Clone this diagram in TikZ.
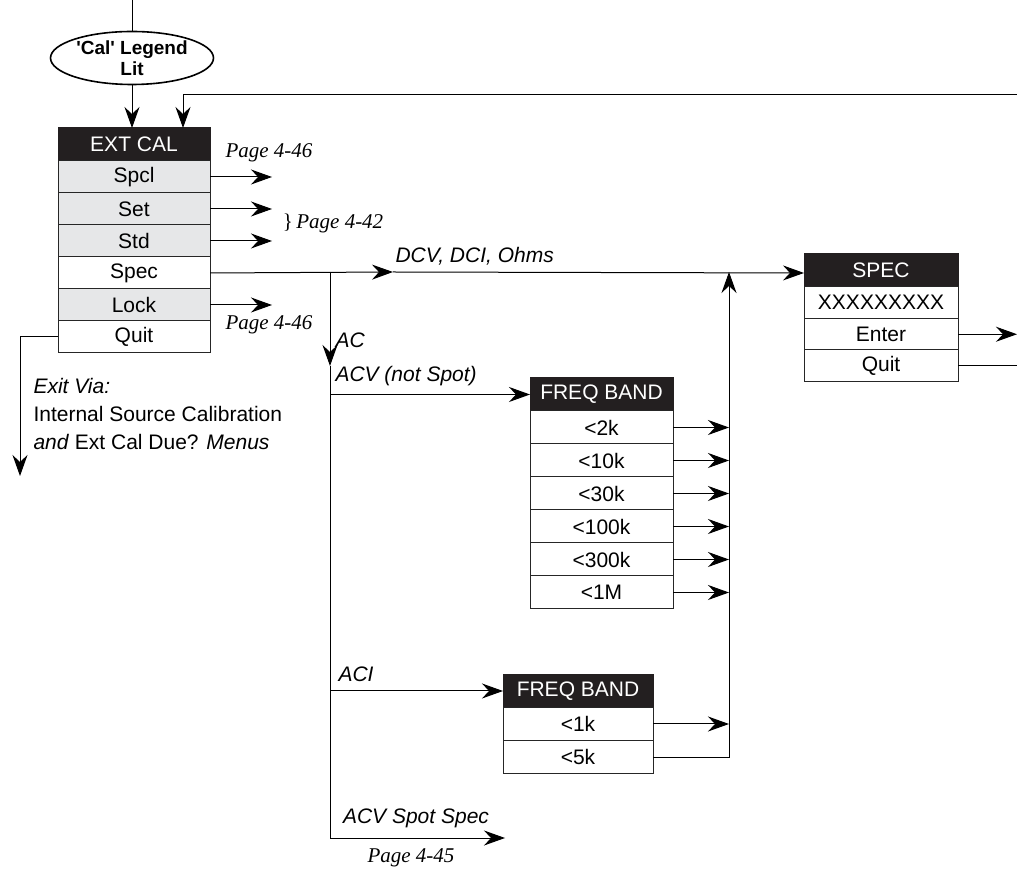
\documentclass[tikz,border=0pt]{standalone}
\usepackage{fontspec}
\setmainfont{Liberation Sans}
\newfontfamily\serifpage{Liberation Serif}
\newfontfamily\legendfont{Liberation Sans}
\usetikzlibrary{arrows.meta,positioning,shapes.geometric}
\definecolor{menugrey}{RGB}{230,231,232}
\definecolor{menublack}{RGB}{35,31,32}
\newcommand\menufont{\fontsize{10.5}{12.6}\selectfont}
\newcommand\pagefont{\serifpage\itshape\fontsize{10.5}{12.6}\selectfont}

\begin{document}
\begin{tikzpicture}[x=0.5pt,y=-0.5pt,>={Stealth[length=10.5pt,width=7.5pt,inset=3.5pt]},line width=0.5pt,
  hdr/.style={draw=menublack,fill=menublack,text=white,font=\menufont,minimum height=16.5pt,inner sep=0pt,outer sep=0pt},
  item/.style={draw=black!85,fill=white,font=\menufont,inner sep=0pt,outer sep=0pt},
  greyitem/.style={item,fill=menugrey},
  lbl/.style={font=\menufont\itshape,inner sep=1pt},
  pg/.style={font=\pagefont,inner sep=1pt}]
\useasboundingbox (0,0) rectangle (1017,870);

% entry
\coordinate (feed) at (132,0);
\node[draw,ellipse,line width=0.8pt,minimum width=81.5pt,minimum height=26.5pt,inner sep=0pt,align=center,
  font=\legendfont\bfseries\fontsize{9.5}{10.5}\selectfont] (legend) at (132,58) {'Cal' Legend\\Lit};
\draw (feed) -- (legend);

% EXT CAL menu
\begin{scope}[every node/.append style={minimum width=76pt,minimum height=16pt}]
\node[hdr,minimum height=16.5pt] (extcal) at (134,144.5) {EXT CAL};
\node[greyitem,below=0pt of extcal] (spcl) {Spcl};
\node[greyitem,below=0pt of spcl] (set) {Set};
\node[greyitem,below=0pt of set] (std) {Std};
\node[item,below=0pt of std] (spec) {Spec};
\node[greyitem,below=0pt of spec] (lock) {Lock};
\node[item,below=0pt of lock] (quit) {Quit};
\end{scope}

\draw[->] (legend.south) -- (legend.south |- extcal.north);
\coordinate (edge) at (1017,95);
\draw[->] (edge) -| ([xshift=24.5pt]extcal.north);

\draw[->] (spcl.east) -- ++(62,0);
\draw[->] (set.east) -- ++(62,0);
\draw[->] (std.east) -- ++(62,0);
\draw[->] (lock.east) -- ++(62,0);
\node[pg] (pgspcl) at (269,153) {Page 4-46};
\node[pg] (pgset) at (333,223) {\upshape\}\,\itshape Page 4-42};
\node[pg] (pglock) at (269,325) {Page 4-46};

% exit
\coordinate (exitend) at (20,476);
\draw[->] (quit.west) -| (exitend);
\node[anchor=west,align=left,inner sep=0pt,font=\fontsize{10.5}{14}\selectfont] (exitnote) at (33,414)
  {\textit{Exit Via:}\\Internal Source Calibration\\\textit{and} Ext Cal Due? \textit{Menus}};

% SPEC menu
\begin{scope}[every node/.append style={minimum width=77pt,minimum height=15.75pt}]
\node[hdr,minimum height=16.5pt] (spechdr) at (881,270.5) {SPEC};
\node[item,below=0pt of spechdr] (xxx) {XXXXXXXXX};
\node[item,below=0pt of xxx] (enter) {Enter};
\node[item,below=0pt of enter] (squit) {Quit};
\end{scope}
\draw[->] (enter.east) -- (enter.east -| edge);
\draw (squit.east) -- (squit.east -| edge);

% spec branch
\coordinate (dcv) at (393,272);
\coordinate (acsplit) at (330,272);
\coordinate (acmark) at (330,366);
\coordinate (spot) at (505,838);
\coordinate (bus) at (729,272);
\draw[->] (spec.east) -- (dcv) node[lbl,above right,yshift=2pt] {DCV, DCI, Ohms};
\draw[->] (dcv) -- (spec.east -| spechdr.west);
\draw[->] (acsplit) -- (acmark);
\node[lbl,anchor=south west] at (333,350) {AC};
\draw[->] (acmark) |- (spot);
\node[lbl,anchor=south] at (416,830) {ACV Spot Spec};
\node[pg,anchor=north] at (411,846) {Page 4-45};

% FREQ BAND (ACV)
\begin{scope}[every node/.append style={minimum width=71.5pt,minimum height=16.5pt}]
\node[hdr] (fbv) at (601.5,394.5) {FREQ BAND};
\node[item,below=0pt of fbv] (b2k) {<2k};
\node[item,below=0pt of b2k] (b10k) {<10k};
\node[item,below=0pt of b10k] (b30k) {<30k};
\node[item,below=0pt of b30k] (b100k) {<100k};
\node[item,below=0pt of b100k] (b300k) {<300k};
\node[item,below=0pt of b300k] (b1M) {<1M};
\end{scope}
\draw[->] (acsplit |- fbv.west) -- (fbv.west);
\node[lbl,anchor=south west] at (333,388) {ACV (not Spot)};
\foreach \r in {b2k,b10k,b30k,b100k,b300k,b1M}
  \draw[->] (\r.east) -- (\r.east -| bus);

% FREQ BAND (ACI)
\begin{scope}[every node/.append style={minimum width=75pt,minimum height=16.5pt}]
\node[hdr] (fbi) at (578,691) {FREQ BAND};
\node[item,below=0pt of fbi] (c1k) {<1k};
\node[item,below=0pt of c1k] (c5k) {<5k};
\end{scope}
\draw[->] (acsplit |- fbi.west) -- (fbi.west);
\node[lbl,anchor=south west] at (336,684) {ACI};
\draw[->] (c1k.east) -- (c1k.east -| bus);
\draw[->] (c5k.east) -| (bus);
\end{tikzpicture}
\end{document}
